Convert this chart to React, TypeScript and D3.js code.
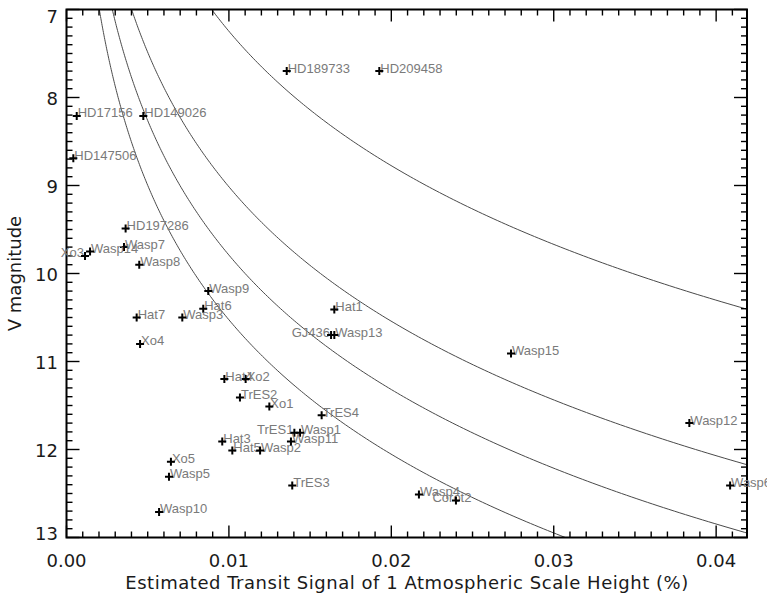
import React from 'react';
import * as d3 from 'd3';

const planetNames = [
  'HD189733', 'HD209458', 'HD17156', 'HD149026', 'HD147506', 'HD197286',
  'Wasp7', 'Xo3', 'Wasp14', 'Wasp8', 'Wasp9', 'Hat6', 'Hat7', 'Wasp3', 'Xo4',
  'Hat4', 'Xo2', 'TrES2', 'Xo1', 'Hat3', 'Hat5', 'Wasp2', 'Xo5', 'Wasp5',
  'Wasp10', 'TrES1', 'Wasp1', 'Wasp11', 'TrES4', 'TrES3', 'Hat1', 'GJ436',
  'Wasp13', 'Wasp15', 'Wasp12', 'Wasp6', 'Wasp4', 'Corot2',
];
const transitSignal = [
  0.01356, 0.01926, 0.00063, 0.00473, 0.00042, 0.00364,
  0.00354, 0.00114, 0.00145, 0.00448, 0.00873, 0.00842, 0.00432, 0.00713, 0.00453,
  0.00972, 0.01103, 0.01068, 0.01249, 0.00959, 0.01021, 0.01192, 0.00643, 0.00631,
  0.0057, 0.01403, 0.01438, 0.01382, 0.01571, 0.0139, 0.01649, 0.01629,
  0.01649, 0.02737, 0.03835, 0.04086, 0.0217, 0.02398,
];
const vMagnitude = [
  7.70, 7.70, 8.21, 8.21, 8.69, 9.49,
  9.70, 9.80, 9.75, 9.90, 10.20, 10.40, 10.50, 10.50, 10.80,
  11.20, 11.20, 11.41, 11.51, 11.91, 12.01, 12.01, 12.14, 12.31,
  12.71, 11.81, 11.81, 11.91, 11.61, 12.41, 10.41, 10.70,
  10.70, 10.91, 11.70, 12.41, 12.51, 12.58,
];
// signal level of each constant-S/N curve at V = 7, and the curves' magnitude slope
const curveSignalAtV7 = [0.00202, 0.00282, 0.00401, 0.00894];
const curveSlope = 0.197;

const xTickValues = [0, 0.01, 0.02, 0.03, 0.04];
const xTickLabels = ['0.00', '0.01', '0.02', '0.03', '0.04'];
const yTickValues = [7, 8, 9, 10, 11, 12, 13];
const yTickLabels = ['7', '8', '9', '10', '11', '12', '13'];

const xTitle = 'Estimated Transit Signal of 1 Atmospheric Scale Height (%)';
const yTitle = 'V magnitude';

const labelAnchor: Record<string, string> = { Xo3: 'end', GJ436: 'end', TrES1: 'end', Corot2: 'middle' };

export default function App() {
  const W = 767, H = 597;
  const left = 66.5, right = 747, top = 9.5, bottom = 537.5;
  const x = d3.scaleLinear().domain([0, 0.0419]).range([left, right]);
  const y = d3.scaleLinear().domain([7, 13]).range([top, bottom]);

  const xMinor = d3.range(0, 0.0419, 0.001);
  const yMinor = d3.range(7, 13.0001, 0.1);

  const vs = d3.range(6.8, 13.2, 0.02);
  const line = d3.line<number[]>().x(d => x(d[0])).y(d => y(d[1]));
  const curves = curveSignalAtV7.map(c => line(vs.map(v => [c * Math.pow(10, curveSlope * (v - 7)), v])) || '');

  const tickFont = '"DejaVu Sans", sans-serif';
  const majorLen = 12, minorLen = 6;

  return (
    <svg width={W} height={H} style={{ position: 'absolute', left: 0, top: 0, background: '#fff' }}>
      <rect width={W} height={H} fill="#fff" />
      <defs>
        <clipPath id="plotClip">
          <rect x={left} y={top} width={right - left} height={bottom - top} />
        </clipPath>
      </defs>
      <g clipPath="url(#plotClip)">
        {curves.map((d, i) => (
          <path key={i} d={d} fill="none" stroke="#4a4a4a" strokeWidth={1} />
        ))}
      </g>
      <g stroke="#000" strokeWidth={1.4}>
        {xMinor.map((t, i) => {
          const major = Math.abs(t * 100 - Math.round(t * 100)) < 1e-6;
          const L = major ? majorLen : minorLen;
          const px = x(t);
          return (
            <g key={'xt' + i}>
              <line x1={px} x2={px} y1={bottom} y2={bottom - L} />
              <line x1={px} x2={px} y1={top} y2={top + L} />
            </g>
          );
        })}
        {yMinor.map((t, i) => {
          const major = Math.abs(t - Math.round(t)) < 1e-6;
          const L = major ? majorLen + 1 : minorLen;
          const py = y(t);
          return (
            <g key={'yt' + i}>
              <line x1={left} x2={left + L} y1={py} y2={py} />
              <line x1={right} x2={right - L} y1={py} y2={py} />
            </g>
          );
        })}
      </g>
      <rect x={left} y={top} width={right - left} height={bottom - top} fill="none" stroke="#000" strokeWidth={2} />
      <g>
        {planetNames.map((name, i) => {
          const cx = x(transitSignal[i]);
          const cy = y(vMagnitude[i]);
          const anchor = labelAnchor[name] || 'start';
          const tx = anchor === 'end' ? cx - 1 : anchor === 'middle' ? cx - 4 : cx + 1;
          return (
            <g key={name}>
              <text x={tx} y={cy + 1.5} fontFamily='"Liberation Sans", Arial, sans-serif' fontSize={13}
                fill="#7a7a7a" textAnchor={anchor}>{name}</text>
              <path d={`M${cx - 4},${cy}H${cx + 4}M${cx},${cy - 4}V${cy + 4}`} stroke="#000" strokeWidth={2} />
            </g>
          );
        })}
      </g>
      <g fontFamily={tickFont} fontSize={18} fill="#1a1a1a">
        {xTickValues.map((t, i) => (
          <text key={'xl' + i} x={x(t)} y={567} textAnchor="middle">{xTickLabels[i]}</text>
        ))}
        {yTickValues.map((t, i) => {
          const shift = t === 7 ? 6.5 : t === 13 ? -4 : 0.5;
          return (
            <text key={'yl' + i} x={58} y={y(t) + shift} textAnchor="end" dominantBaseline="central">{yTickLabels[i]}</text>
          );
        })}
      </g>
      <text x={(left + right) / 2} y={589} textAnchor="middle" fontFamily={tickFont} fontSize={18} fill="#1a1a1a"
        textLength={563} lengthAdjust="spacing">{xTitle}</text>
      <text transform={`translate(21,${(top + bottom) / 2}) rotate(-90)`} textAnchor="middle"
        fontFamily={tickFont} fontSize={18} fill="#1a1a1a">{yTitle}</text>
    </svg>
  );
}
